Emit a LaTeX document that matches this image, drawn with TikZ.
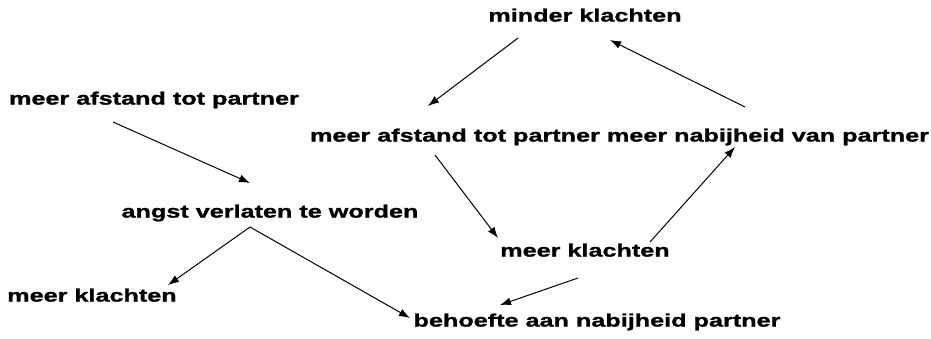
\documentclass[tikz,border=0pt]{standalone}
\usepackage{fontspec}
\newfontfamily\lbl{Liberation Sans}[FakeStretch=1.4,FakeBold=1.2]
\usetikzlibrary{arrows.meta}
\tikzset{
  lab/.style={inner sep=0pt, text height=13pt, text depth=3.8pt,
    font=\lbl\bfseries\fontsize{18}{20}\selectfont},
  conn/.style={line width=1pt, -{Latex[length=11pt,width=8pt]}}
}
\begin{document}
\begin{tikzpicture}[x=1pt,y=-1pt]
\fill[white] (0,0) rectangle (931,338);
\useasboundingbox (0,0) rectangle (931,338);
\node[lab] (mk) at (585,17) {minder klachten};
\node[lab] (a1) at (154,100) {meer afstand tot partner};
\node[lab] (a2) at (455,137) {meer afstand tot partner};
\node[lab] (nb) at (768,137) {meer nabijheid van partner};
\node[lab] (ang) at (270,213) {angst verlaten te worden};
\node[lab] (k2) at (585,252) {meer klachten};
\node[lab] (k1) at (92,297) {meer klachten};
\node[lab] (bh) at (597,322) {behoefte aan nabijheid partner};
\draw[conn] ([shift={(-67,21)}]mk.center) -- ([shift={(-27,-31)}]a2.center);
\draw[conn] ([shift={(-23,-30)}]nb.center) -- ([shift={(25,23)}]mk.center);
\draw[conn] ([shift={(-41,22)}]a1.center) -- ([shift={(-20,-30)}]ang.center);
\draw[conn] ([shift={(-20,18)}]a2.center) -- ([shift={(-87,-14)}]k2.center);
\draw[conn] ([shift={(65,-10)}]k2.center) -- ([shift={(-33,10)}]nb.center);
\draw[conn] ([shift={(-20,14)}]ang.center) -- ([shift={(76,-12)}]k1.center);
\draw[conn] ([shift={(-20,14)}]ang.center) -- ([shift={(-187,-4)}]bh.center);
\draw[conn] ([shift={(-7,26)}]k2.center) -- ([shift={(-97,-17)}]bh.center);
\end{tikzpicture}
\end{document}
